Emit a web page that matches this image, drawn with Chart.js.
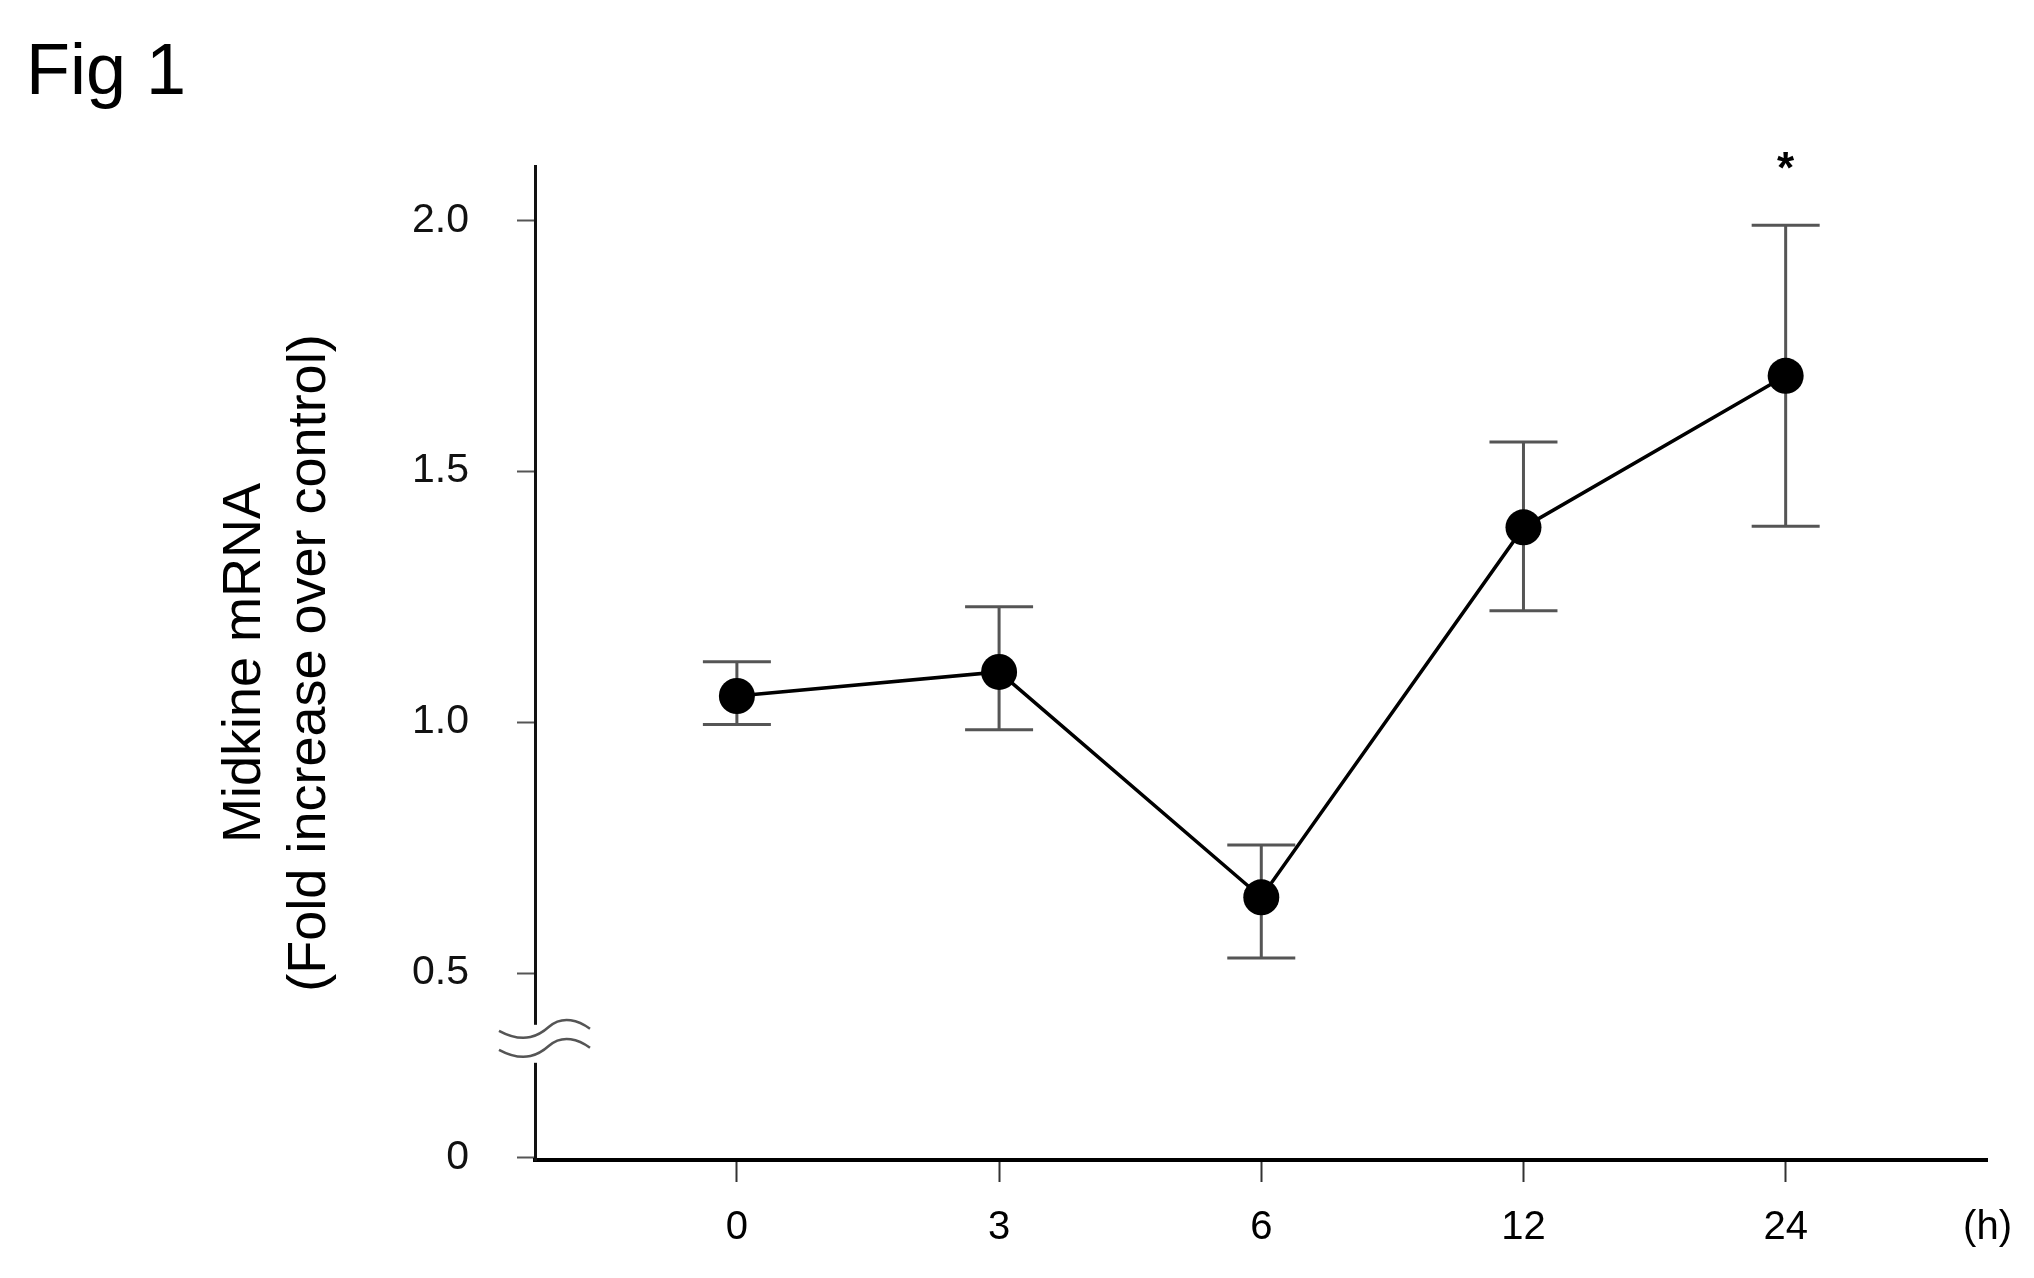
<!DOCTYPE html>
<html>
<head>
<meta charset="utf-8">
<script src="https://cdn.jsdelivr.net/npm/chart.js@4.4.0/dist/chart.umd.min.js"></script>
<style>
  html, body { margin: 0; padding: 0; background: #fff; }
  #wrap { position: relative; width: 2034px; height: 1278px; }
  #figLabel { position: absolute; left: 26px; top: 28px; font: 72px "Liberation Sans", Arial, sans-serif; color: #000; }
  canvas { position: absolute; left: 0; top: 0; }
</style>
</head>
<body>
<div id="wrap">
  <div id="figLabel">Fig 1</div>
  <canvas id="chart" width="2034" height="1278"></canvas>
</div>
<script>
// time points (h) and measured values
const timeLabels = ['0', '3', '6', '12', '24'];
const unitLabel = '(h)';
const meanValues = [1.052, 1.10, 0.651, 1.388, 1.69];
const errUpper = [1.12, 1.23, 0.755, 1.558, 1.99];
const errLower = [0.995, 0.985, 0.53, 1.222, 1.39];
const significance = ['', '', '', '', '*'];

// y axis ticks; "0" sits below the axis break
const yTickValues = [0.1315, 0.5, 1.0, 1.5, 2.0];
const yTickLabels = ['0', '0.5', '1.0', '1.5', '2.0'];
const yMin = 0.1275;
const yMax = 2.108;
const yBreakValue = 0.367;

const xMin = -0.77;
const xMax = 4.77;

const points = meanValues.map((v, i) => ({ x: i, y: v }));

// error bars + asterisk
const errorBarPlugin = {
    id: 'errorBars',
    beforeDatasetsDraw(chart) {
        const { ctx, scales: { x, y } } = chart;
        ctx.save();
        ctx.strokeStyle = '#555';
        ctx.lineWidth = 3;
        meanValues.forEach((v, i) => {
            const px = x.getPixelForValue(i);
            const top = y.getPixelForValue(errUpper[i]);
            const bot = y.getPixelForValue(errLower[i]);
            ctx.beginPath();
            ctx.moveTo(px, top); ctx.lineTo(px, bot);
            ctx.moveTo(px - 34, top); ctx.lineTo(px + 34, top);
            ctx.moveTo(px - 34, bot); ctx.lineTo(px + 34, bot);
            ctx.stroke();
        });
        ctx.restore();
    },
    afterDraw(chart) {
        const { ctx, scales: { x, y } } = chart;
        ctx.save();
        ctx.fillStyle = '#000';
        ctx.font = 'bold 44px "Liberation Sans", Arial, sans-serif';
        ctx.textAlign = 'center';
        ctx.textBaseline = 'middle';
        significance.forEach((s, i) => {
            if (!s) return;
            ctx.fillText(s, x.getPixelForValue(i), y.getPixelForValue(errUpper[i]) - 54);
        });
        ctx.restore();
    }
};

// axis break mark on y axis
const axisBreakPlugin = {
    id: 'axisBreak',
    afterDraw(chart) {
        const { ctx, chartArea, scales: { y } } = chart;
        const cx = chartArea.left;
        const cy = y.getPixelForValue(yBreakValue);
        ctx.save();
        ctx.fillStyle = '#fff';
        ctx.fillRect(cx - 4, cy - 15, 8, 38);
        ctx.strokeStyle = '#555';
        ctx.lineWidth = 2.5;
        [-9, 10].forEach(dy => {
            ctx.beginPath();
            ctx.moveTo(cx - 36, cy + dy);
            ctx.bezierCurveTo(cx - 10, cy + dy + 14, cx + 5, cy + dy + 4, cx + 14, cy + dy - 4);
            ctx.bezierCurveTo(cx + 28, cy + dy - 16, cx + 44, cy + dy - 10, cx + 55, cy + dy - 2);
            ctx.stroke();
        });
        ctx.restore();
    }
};

const ctx = document.getElementById('chart').getContext('2d');
new Chart(ctx, {
    type: 'scatter',
    data: {
        datasets: [{
            data: points,
            showLine: true,
            borderColor: '#000',
            borderWidth: 3.5,
            backgroundColor: '#000',
            pointRadius: 18,
            pointHoverRadius: 18,
            pointBorderWidth: 0
        }]
    },
    options: {
        responsive: false,
        animation: false,
        devicePixelRatio: 1,
        layout: { padding: { top: 166, right: 34, left: 0, bottom: 0 } },
        plugins: {
            legend: { display: false },
            tooltip: { enabled: false }
        },
        scales: {
            x: {
                type: 'linear',
                min: xMin,
                max: xMax,
                afterBuildTicks(scale) {
                    scale.ticks = timeLabels.map((t, i) => ({ value: i })).concat([{ value: xMax }]);
                },
                afterFit(scale) { scale.height = 118; },
                border: { display: true, color: '#000', width: 4 },
                grid: {
                    drawOnChartArea: false,
                    drawTicks: true,
                    tickLength: 22,
                    tickWidth: 2,
                    tickColor: c => (c.index < timeLabels.length ? '#333' : 'rgba(0,0,0,0)')
                },
                ticks: {
                    autoSkip: false,
                    maxRotation: 0,
                    padding: 22,
                    color: '#000',
                    font: { family: '"Liberation Sans", Arial, sans-serif', size: 40 },
                    callback: (v, i) => (i < timeLabels.length ? timeLabels[i] : unitLabel)
                }
            },
            y: {
                type: 'linear',
                min: yMin,
                max: yMax,
                afterBuildTicks(scale) {
                    scale.ticks = yTickValues.map(v => ({ value: v }));
                },
                afterFit(scale) { scale.width = 535; },
                border: { display: true, color: '#111', width: 3 },
                grid: {
                    drawOnChartArea: false,
                    drawTicks: true,
                    tickLength: 18,
                    tickWidth: 2,
                    tickColor: '#555'
                },
                ticks: {
                    autoSkip: false,
                    padding: 48,
                    color: '#111',
                    font: { family: '"Liberation Sans", Arial, sans-serif', size: 41 },
                    callback: (v, i) => yTickLabels[i]
                },
                title: {
                    display: true,
                    text: ['Midkine mRNA', '(Fold increase over control)'],
                    color: '#000',
                    font: { family: '"Liberation Sans", Arial, sans-serif', size: 54, lineHeight: 1.2 },
                    padding: { top: 213, bottom: 0 }
                }
            }
        }
    },
    plugins: [errorBarPlugin, axisBreakPlugin]
});
</script>
</body>
</html>
